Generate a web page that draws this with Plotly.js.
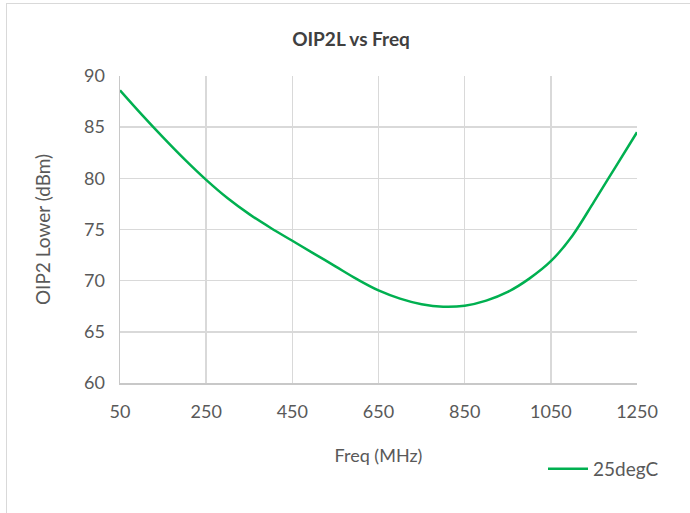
<!DOCTYPE html>
<html>
<head>
<meta charset="utf-8">
<script src="https://cdn.plot.ly/plotly-3.0.1.min.js"></script>
<style>
  html, body { margin: 0; padding: 0; background: #fff; }
  #chart { width: 690px; height: 513px; }
  #frame { position: absolute; left: 6px; top: 3px; width: 700px; height: 520px;
           border: 1.5px solid #d9d9d9; pointer-events: none; box-sizing: border-box; }
</style>
</head>
<body>
<div id="chart"></div>
<div id="frame"></div>
<script>
const freqMHz = [50, 100, 150, 200, 250, 300, 350, 400, 450, 500, 550, 600, 650, 700, 750, 800, 850, 900, 950, 1000, 1050, 1100, 1150, 1200, 1250];
const oip2Lower = [88.6, 86.25, 84.0, 81.85, 79.85, 78.05, 76.5, 75.15, 73.9, 72.65, 71.4, 70.15, 69.05, 68.25, 67.7, 67.45, 67.55, 68.05, 68.9, 70.2, 71.9, 74.4, 77.7, 81.1, 84.5];
const seriesName = '25degC';
const xTicks = [50, 250, 450, 650, 850, 1050, 1250];
const yTicks = [60, 65, 70, 75, 80, 85, 90];

const fontFam = 'Lato, Open Sans, sans-serif';
const trace = {
  x: freqMHz, y: oip2Lower, name: seriesName, type: 'scatter', mode: 'lines',
  line: { color: '#00b050', width: 2.5, shape: 'spline', smoothing: 1 },
  showlegend: true
};
const layout = {
  width: 690, height: 513,
  margin: { l: 120, r: 53, t: 76, b: 130, autoexpand: false },
  paper_bgcolor: '#ffffff', plot_bgcolor: '#ffffff',
  font: { family: fontFam, color: '#595959', size: 18 },
  title: { text: '<b>OIP2L vs Freq</b>', font: { family: fontFam, size: 19, color: '#404040' },
           x: 351/690, xanchor: 'center', xref: 'container', y: 1 - 39/513, yanchor: 'middle', yref: 'container' },
  xaxis: {
    range: [50, 1250], tickvals: xTicks, ticktext: xTicks.map(String),
    showgrid: true, gridcolor: '#d9d9d9', gridwidth: 1.5,
    showline: true, linecolor: '#c8c8c8', linewidth: 1.5, zeroline: false,
    ticks: '', ticklen: 0, ticklabelstandoff: 12, tickfont: { size: 18, color: '#595959' },
    title: { text: 'Freq (MHz)', font: { size: 18, color: '#595959' }, standoff: 28 },
    mirror: false
  },
  yaxis: {
    range: [60, 90], tickvals: yTicks, ticktext: yTicks.map(String),
    showgrid: true, gridcolor: '#d9d9d9', gridwidth: 1.5,
    showline: true, linecolor: '#c8c8c8', linewidth: 1.5, zeroline: false,
    ticks: '', ticklen: 0, ticklabelstandoff: 10, tickfont: { size: 18, color: '#595959' },
    title: { text: 'OIP2 Lower (dBm)', font: { size: 19, color: '#595959' }, standoff: 28 }
  },
  legend: { x: 543/690, xanchor: 'left', y: 1 - 469/513, yanchor: 'middle',
            xref: 'container', yref: 'container',
            font: { size: 19, color: '#595959' }, bgcolor: 'rgba(0,0,0,0)', itemwidth: 40 },
  showlegend: true
};
Plotly.newPlot('chart', [trace], layout, { displayModeBar: false, staticPlot: true });
</script>
</body>
</html>
